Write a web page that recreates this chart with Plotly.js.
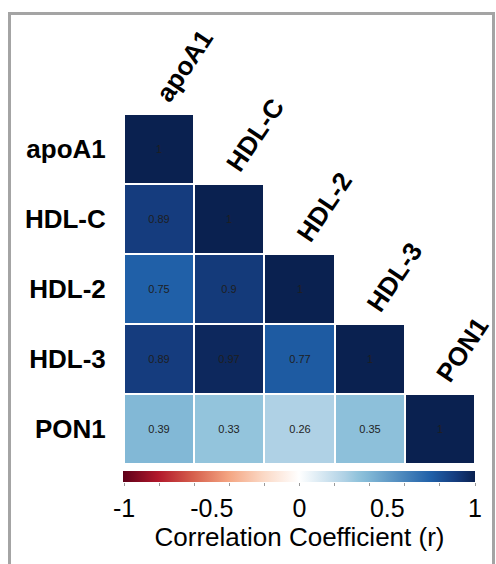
<!DOCTYPE html>
<html>
<head>
<meta charset="utf-8">
<script src="https://cdn.plot.ly/plotly-3.0.1.min.js"></script>
<style>
  html, body { margin: 0; padding: 0; background: #ffffff; }
  #wrap { position: relative; width: 496px; height: 564px; overflow: hidden; }
  #chart { position: absolute; left: 0; top: 0; width: 496px; height: 564px; }
  #frame { position: absolute; left: 8px; top: 12px; width: 487px; height: 600px;
           box-sizing: border-box; border: 3px solid #a4a4a4; border-bottom: none;
           pointer-events: none; }
</style>
</head>
<body>
<div id="wrap">
  <div id="chart"></div>
  <div id="frame"></div>
</div>
<script>
// ---- data ----
var variables = ['apoA1', 'HDL-C', 'HDL-2', 'HDL-3', 'PON1'];
var rowApoA1 = [1, null, null, null, null];
var rowHDLC  = [0.89, 1, null, null, null];
var rowHDL2  = [0.75, 0.9, 1, null, null];
var rowHDL3  = [0.89, 0.97, 0.77, 1, null];
var rowPON1  = [0.39, 0.33, 0.26, 0.35, 1];
var colorbarTickVals = [-1, -0.5, 0, 0.5, 1];
var colorbarTickText = ['-1', '-0.5', '0', '0.5', '1'];
var colorbarTitle = 'Correlation Coefficient (r)';

var zMatrix = [rowApoA1, rowHDLC, rowHDL2, rowHDL3, rowPON1];
var textMatrix = zMatrix.map(function (row) {
  return row.map(function (v) { return v === null ? '' : String(v); });
});

var colorscale = [
  [0.0, '#5e0019'],
  [0.1, '#b2182b'],
  [0.2, '#d6604d'],
  [0.3, '#f4a582'],
  [0.4, '#fbd9c6'],
  [0.5, '#ffffff'],
  [0.63, '#afd1e5'],
  [0.665, '#93c4dc'],
  [0.695, '#82b8d6'],
  [0.875, '#2060a8'],
  [0.945, '#153c7e'],
  [1.0, '#0a2150']
];

var heat = {
  type: 'heatmap',
  x: variables,
  y: variables,
  z: zMatrix,
  text: textMatrix,
  texttemplate: '%{text}',
  textfont: { family: 'Liberation Sans, Arial, sans-serif', size: 11, color: '#1e1e1e' },
  zmin: -1, zmax: 1,
  colorscale: colorscale,
  xgap: 2, ygap: 2,
  hoverinfo: 'skip',
  colorbar: {
    orientation: 'h',
    lenmode: 'pixels', len: 352,
    thicknessmode: 'pixels', thickness: 11,
    x: 0.5, xanchor: 'center',
    y: 0.1442, yanchor: 'bottom',
    xpad: 0, ypad: 0,
    outlinewidth: 0,
    showticklabels: false,
    ticks: '',
    title: { text: '' }
  }
};

var dummy2 = { type: 'scatter', x: [], y: [], xaxis: 'x2', yaxis: 'y2', hoverinfo: 'skip', showlegend: false };
var dummy3 = { type: 'scatter', x: [], y: [], xaxis: 'x3', yaxis: 'y2', hoverinfo: 'skip', showlegend: false };

var annotations = variables.map(function (name, i) {
  return {
    text: '<b>' + name + '</b>',
    x: i, y: i - 0.5, xref: 'x', yref: 'y',
    xanchor: 'left', yanchor: 'bottom',
    xshift: -12, yshift: 4,
    textangle: -56,
    showarrow: false,
    font: { family: 'Liberation Sans, Arial, sans-serif', size: 26, color: '#000000' }
  };
});

var layout = {
  width: 496, height: 564,
  margin: { l: 124, r: 21, t: 114, b: 20 },
  paper_bgcolor: '#ffffff',
  plot_bgcolor: '#ffffff',
  showlegend: false,
  font: { family: 'Liberation Sans, Arial, sans-serif', color: '#000000' },
  xaxis: {
    domain: [0, 1], anchor: 'y',
    range: [-0.5, 4.5],
    showticklabels: false, ticks: '',
    showgrid: false, zeroline: false, showline: false
  },
  yaxis: {
    domain: [0.18605, 1], anchor: 'x',
    range: [4.5, -0.5],
    ticks: 'outside', ticklen: 12, tickcolor: 'rgba(0,0,0,0)',
    tickfont: { family: 'Liberation Sans, Arial, sans-serif', size: 26, color: '#000000', weight: 'bold' },
    showgrid: false, zeroline: false, showline: false
  },
  xaxis2: {
    domain: [0, 1], anchor: 'y2',
    range: [-1, 1],
    tickmode: 'array', tickvals: colorbarTickVals, ticktext: colorbarTickText,
    ticks: 'outside', ticklen: 4, tickcolor: 'rgba(0,0,0,0)',
    tickfont: { family: 'Liberation Sans, Arial, sans-serif', size: 25, color: '#000000' },
    title: { text: colorbarTitle, standoff: 0,
             font: { family: 'Liberation Sans, Arial, sans-serif', size: 26, color: '#000000' } },
    showgrid: false, zeroline: false, showline: false
  },
  xaxis3: {
    domain: [0, 1], anchor: 'y2', overlaying: 'x2',
    range: [-1, 1],
    tick0: -1, dtick: 0.2,
    ticks: 'outside', ticklen: 3, tickwidth: 1, tickcolor: '#9a9a9a',
    showticklabels: false,
    showgrid: false, zeroline: false, showline: false
  },
  yaxis2: {
    domain: [0.1442, 0.1698], anchor: 'x2',
    range: [0, 1], visible: false
  },
  annotations: annotations
};

Plotly.newPlot('chart', [heat, dummy2, dummy3], layout, { displayModeBar: false, staticPlot: true });
</script>
</body>
</html>
